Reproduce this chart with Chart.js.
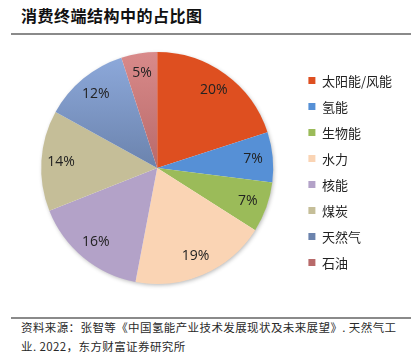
<!DOCTYPE html>
<html>
<head>
<meta charset="utf-8">
<script src="https://cdn.jsdelivr.net/npm/chart.js@4"></script>
<style>
  body { margin: 0; background: #fff; width: 416px; height: 361px; position: relative; overflow: hidden;
         font-family: "Noto Sans CJK SC", sans-serif; }
  #title { position: absolute; left: 21px; top: 3px; font-size: 16px; font-weight: bold; color: #111; letter-spacing: 0.5px; }
  .rule { position: absolute; left: 11px; width: 400px; height: 2px; background: #8a8a8a; }
  #chartBox { position: absolute; left: 0; top: 40px; width: 416px; height: 265px; }
  #source { position: absolute; left: 21px; top: 318px; font-size: 11.5px; line-height: 19px; color: #2a2a2a; letter-spacing: 0.4px; }
</style>
</head>
<body>
<div id="title">消费终端结构中的占比图</div>
<div class="rule" style="top:33px"></div>
<div id="chartBox"><canvas id="myChart"></canvas></div>
<div class="rule" style="top:317px"></div>
<div id="source">资料来源：张智等《中国氢能产业技术发展现状及未来展望》. 天然气工<br>业. 2022，东方财富证券研究所</div>
<script>
const categories = ['太阳能/风能', '氢能', '生物能', '水力', '核能', '煤炭', '天然气', '石油'];
const shares = [20, 7, 7, 19, 16, 14, 12, 5];
const colors = ['#de4f20', '#5690d6', '#9bbb59', '#fad4b4', '#b3a2c8', '#c5be98', '#7f9bc8', '#d07b7b'];

// the two slices at top left fade darker towards the centre
const fades = { 6: ['#8eaadc', '#6b83ad'], 7: ['#d98a8a', '#b86a6a'] };

function sliceColor(ctx) {
  const i = ctx.dataIndex;
  const area = ctx.chart.chartArea;
  if (!fades[i] || !area) return colors[i];
  const g = ctx.chart.ctx.createLinearGradient(0, area.top, 0, (area.top + area.bottom) / 2);
  g.addColorStop(0, fades[i][0]);
  g.addColorStop(1, fades[i][1]);
  return g;
}

// soft shadow under the pie
const pieShadow = {
  id: 'pieShadow',
  beforeDatasetsDraw(chart) {
    const arc = chart.getDatasetMeta(0).data[0];
    if (!arc) return;
    const ctx = chart.ctx;
    ctx.save();
    ctx.shadowColor = 'rgba(0,0,0,0.3)';
    ctx.shadowBlur = 4;
    ctx.shadowOffsetX = 1;
    ctx.shadowOffsetY = 1.5;
    ctx.fillStyle = '#fff';
    ctx.beginPath();
    ctx.arc(arc.x, arc.y, arc.outerRadius - 0.5, 0, Math.PI * 2);
    ctx.fill();
    ctx.restore();
  }
};

// percent labels inside the slices
const sliceLabels = {
  id: 'sliceLabels',
  afterDatasetsDraw(chart) {
    const ctx = chart.ctx;
    const meta = chart.getDatasetMeta(0);
    ctx.save();
    ctx.font = '14px "Open Sans", "DejaVu Sans", sans-serif';
    ctx.fillStyle = '#222';
    ctx.textAlign = 'center';
    ctx.textBaseline = 'middle';
    meta.data.forEach((arc, i) => {
      const mid = (arc.startAngle + arc.endAngle) / 2;
      const r = arc.outerRadius * 0.83;
      ctx.fillText(shares[i] + '%', arc.x + Math.cos(mid) * r, arc.y + Math.sin(mid) * r);
    });
    ctx.restore();
  }
};

const config = {
  type: 'pie',
  data: {
    labels: categories,
    datasets: [{
      data: shares,
      backgroundColor: sliceColor,
      borderWidth: 0
    }]
  },
  options: {
    responsive: true,
    maintainAspectRatio: false,
    animation: false,
    layout: { padding: { left: 19, top: 12, bottom: 21, right: 14 } },
    plugins: {
      tooltip: { enabled: false },
      legend: {
        position: 'right',
        title: { display: true, text: '', font: { size: 1 }, padding: { top: 3, bottom: 3 } },
        labels: {
          boxWidth: 7,
          boxHeight: 7,
          padding: 13,
          color: '#222',
          font: { size: 13, family: '"Noto Sans CJK SC", sans-serif' }
        }
      }
    }
  },
  plugins: [pieShadow, sliceLabels]
};

const myChart = new Chart(document.getElementById('myChart'), config);
</script>
</body>
</html>
